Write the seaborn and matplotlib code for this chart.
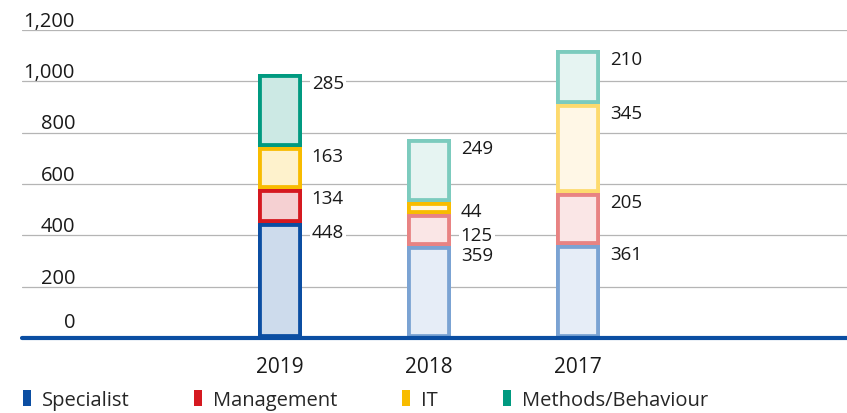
import numpy as np
import matplotlib
matplotlib.use("Agg")
from matplotlib import pyplot as plt
from matplotlib.patches import Patch
import seaborn as sns

# chart data
years = ["2019", "2018", "2017"]
categories = ["Specialist", "Management", "IT", "Methods/Behaviour"]
specialist = [448, 359, 361]
management = [134, 125, 205]
it = [163, 44, 345]
methods = [285, 249, 210]
y_ticks = [0, 200, 400, 600, 800, 1000, 1200]
y_tick_labels = ["0", "200", "400", "600", "800", "1,000", "1,200"]

series = [specialist, management, it, methods]

# edge / fill colours per category, one per year (2019 strong, others light)
edges = [
    ["#0b4ea2", "#7ba3d3", "#7ba3d3"],
    ["#d51920", "#e88383", "#e88383"],
    ["#f8bc00", "#f8bc00", "#fdda6e"],
    ["#009a80", "#7ccbbe", "#7ccbbe"],
]
fills = [
    ["#cddbec", "#e6edf7", "#e6edf7"],
    ["#f5d0d2", "#fae6e6", "#fae6e6"],
    ["#fef2cc", "#fff7e6", "#fff7e6"],
    ["#cce9e4", "#e6f4f2", "#e6f4f2"],
]
legend_colors = ["#0b4ea2", "#d51920", "#f8bc00", "#009a80"]
BLUE = "#0b4ea2"
TXT = "#1a1a1a"

sns.set_style("white")
plt.rcParams["font.family"] = ["Open Sans", "DejaVu Sans"]
FS = 13.5

fig = plt.figure(figsize=(8.47, 4.14), dpi=100)
ax = fig.add_axes([22 / 847, 75 / 414, 825 / 847, 308 / 414])

bar_w = 0.295
bottom = np.zeros(len(years))
for k, vals in enumerate(series):
    n_before = len(ax.patches)
    sns.barplot(x=years, y=vals, bottom=bottom, width=bar_w, color=fills[k][0],
                errorbar=None, ax=ax, zorder=3)
    for j, bar in enumerate(ax.patches[n_before:]):
        bar.set_facecolor(fills[k][j])
        bar.set_edgecolor(edges[k][j])
        bar.set_linewidth(5.6)
        bar.set_clip_path(bar)  # keep stroke inside the segment
    bottom = bottom + np.array(vals)

# value labels to the right of each segment, near its top
nudge = {(1, 1): -12}  # pixels, to keep 2018 labels apart
bottom = np.zeros(len(years))
for k, vals in enumerate(series):
    for j, v in enumerate(vals):
        top = bottom[j] + v
        dy = -9 + nudge.get((k, j), 0)
        ax.annotate(str(v), xy=(j + bar_w / 2, top), xytext=(7, dy * 0.72),
                    textcoords="offset points", ha="left", va="center",
                    fontsize=FS, color=TXT, zorder=4,
                    bbox=dict(boxstyle="square,pad=0.1", fc="white", ec="none"))
    bottom = bottom + np.array(vals)

ax.set_xlim((22 - 280) / 149, (847 - 280) / 149)
ax.set_ylim(0, 1200)
ax.set_yticks(y_ticks)
ax.set_yticklabels([])
ax.yaxis.grid(True, color="#b5b5b5", linewidth=0.9, zorder=0)
ax.set_axisbelow(True)
for s in ax.spines.values():
    s.set_visible(False)
ax.axhline(0, color=BLUE, linewidth=3.0, zorder=5, clip_on=False)
ax.tick_params(axis="both", length=0)
ax.tick_params(axis="x", pad=13, labelsize=15, labelcolor=TXT)
ax.set_xlabel("")
ax.set_ylabel("")

for v, lab in zip(y_ticks, y_tick_labels):
    off = 8 if v == 0 else 3
    ax.annotate(lab, xy=(53 / 825, v), xycoords=ax.get_yaxis_transform(),
                xytext=(0, off), textcoords="offset points", ha="right",
                va="baseline", fontsize=14.5, color=TXT, annotation_clip=False)

handles = [Patch(facecolor=c, edgecolor="none") for c in legend_colors]
fig.legend(handles, categories, loc="center left",
           bbox_to_anchor=(23 / 847, 1 - 401 / 414), ncol=4, frameon=False,
           fontsize=14.5, handlelength=0.4, handleheight=0.8, handletextpad=0.55,
           columnspacing=3.2, borderpad=0, borderaxespad=0)

fig.savefig("out.png", dpi=100)
